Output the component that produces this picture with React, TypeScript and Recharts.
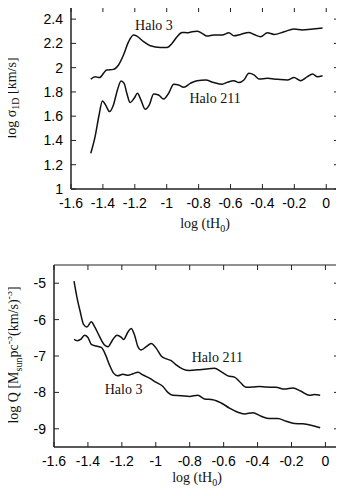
import { LineChart, Line, XAxis, YAxis, ReferenceDot, ReferenceArea } from 'recharts';

// log (tH0) ticks shared by both panels
const xTicks = [-1.6, -1.4, -1.2, -1, -0.8, -0.6, -0.4, -0.2, 0];
const sigmaTicks = [1, 1.2, 1.4, 1.6, 1.8, 2, 2.2, 2.4];
const qTicks = [-9, -8, -7, -6, -5];

// top panel: log sigma_1D
const sigmaHalo3T = [-1.476, -1.449, -1.422, -1.376, -1.334, -1.302, -1.271, -1.239, -1.208, -1.187, -1.145, -1.103, -1.04, -0.998, -0.967, -0.935, -0.904, -0.872, -0.841, -0.81, -0.778, -0.747, -0.705, -0.652, -0.61, -0.579, -0.537, -0.485, -0.453, -0.411, -0.369, -0.327, -0.264, -0.202, -0.149, -0.097, -0.023];
const sigmaHalo3 = [1.904, 1.926, 1.918, 1.981, 1.986, 2.022, 2.104, 2.214, 2.269, 2.26, 2.214, 2.181, 2.167, 2.167, 2.2, 2.255, 2.29, 2.288, 2.296, 2.3, 2.283, 2.26, 2.269, 2.269, 2.288, 2.263, 2.274, 2.29, 2.274, 2.255, 2.288, 2.274, 2.296, 2.318, 2.31, 2.316, 2.326];

const sigmaHalo211T = [-1.476, -1.449, -1.424, -1.403, -1.38, -1.359, -1.334, -1.309, -1.286, -1.267, -1.25, -1.229, -1.204, -1.183, -1.162, -1.135, -1.109, -1.082, -1.051, -1.019, -0.988, -0.956, -0.925, -0.893, -0.852, -0.81, -0.757, -0.705, -0.652, -0.621, -0.579, -0.548, -0.516, -0.485, -0.453, -0.422, -0.369, -0.306, -0.244, -0.202, -0.16, -0.118, -0.086, -0.055, -0.023];
const sigmaHalo211 = [1.295, 1.432, 1.61, 1.726, 1.685, 1.638, 1.693, 1.816, 1.89, 1.871, 1.789, 1.712, 1.748, 1.789, 1.734, 1.657, 1.693, 1.784, 1.775, 1.742, 1.789, 1.863, 1.857, 1.838, 1.871, 1.893, 1.898, 1.877, 1.863, 1.879, 1.893, 1.877, 1.898, 1.953, 1.94, 1.907, 1.912, 1.904, 1.898, 1.918, 1.893, 1.926, 1.948, 1.926, 1.934];

// bottom panel: log Q
const qHalo211T = [-1.482, -1.465, -1.445, -1.426, -1.406, -1.38, -1.36, -1.331, -1.302, -1.282, -1.253, -1.229, -1.203, -1.19, -1.164, -1.145, -1.125, -1.105, -1.086, -1.056, -1.027, -0.997, -0.968, -0.938, -0.909, -0.88, -0.84, -0.801, -0.752, -0.703, -0.654, -0.615, -0.575, -0.536, -0.507, -0.467, -0.428, -0.389, -0.35, -0.291, -0.242, -0.192, -0.143, -0.094, -0.065, -0.031];
const qHalo211 = [-4.945, -5.38, -5.79, -6.13, -6.2, -6.06, -6.2, -6.47, -6.7, -6.745, -6.545, -6.43, -6.49, -6.545, -6.34, -6.245, -6.43, -6.745, -6.836, -6.745, -6.655, -6.79, -7.0, -7.08, -7.13, -7.245, -7.36, -7.4, -7.38, -7.355, -7.336, -7.43, -7.545, -7.58, -7.7, -7.86, -7.855, -7.836, -7.855, -7.86, -7.91, -7.88, -7.97, -8.08, -8.06, -8.08];

const qHalo3T = [-1.482, -1.463, -1.443, -1.42, -1.4, -1.38, -1.351, -1.321, -1.296, -1.273, -1.249, -1.224, -1.194, -1.164, -1.135, -1.105, -1.076, -1.037, -0.997, -0.958, -0.929, -0.9, -0.85, -0.801, -0.752, -0.713, -0.664, -0.615, -0.566, -0.517, -0.477, -0.428, -0.379, -0.33, -0.281, -0.232, -0.183, -0.134, -0.085, -0.031];
const qHalo3 = [-6.545, -6.58, -6.545, -6.43, -6.49, -6.68, -6.727, -6.764, -6.97, -7.245, -7.47, -7.545, -7.5, -7.53, -7.49, -7.445, -7.52, -7.61, -7.727, -7.836, -8.0, -8.08, -8.09, -8.11, -8.08, -8.18, -8.2, -8.29, -8.43, -8.545, -8.59, -8.56, -8.655, -8.72, -8.72, -8.79, -8.855, -8.864, -8.9, -8.97];

// one table per panel, keyed on t; gaps are bridged with connectNulls
function mergeSeries(t3: number[], v3: number[], t211: number[], v211: number[]) {
  const rows = new Map<number, any>();
  t3.forEach((t, i) => rows.set(t, { ...(rows.get(t) || { t }), halo3: v3[i] }));
  t211.forEach((t, i) => rows.set(t, { ...(rows.get(t) || { t }), halo211: v211[i] }));
  return [...rows.values()].sort((a, b) => a.t - b.t);
}
const sigmaRows = mergeSeries(sigmaHalo3T, sigmaHalo3, sigmaHalo211T, sigmaHalo211);
const qRows = mergeSeries(qHalo3T, qHalo3, qHalo211T, qHalo211);

const sansFont = '"Liberation Sans", Arial, sans-serif';
const serifFont = '"Liberation Serif", "Times New Roman", serif';

// gnuplot-style inward ticks, mirrored on the opposite side
const BottomTick = ({ x, y, payload, h }: any) => (
  <g>
    <line x1={x} x2={x} y1={y} y2={y - 5} stroke="#222" strokeWidth={1} />
    <line x1={x} x2={x} y1={y - h} y2={y - h + 5} stroke="#222" strokeWidth={1} />
    <text x={x} y={y + 19} textAnchor="middle" fontSize={14} style={{ fontFamily: sansFont }}>{String(payload.value)}</text>
  </g>
);
const LeftTick = ({ x, y, payload, w }: any) => (
  <g>
    <line x1={x} x2={x + 5} y1={y} y2={y} stroke="#222" strokeWidth={1} />
    <line x1={x + w} x2={x + w - 5} y1={y} y2={y} stroke="#222" strokeWidth={1} />
    <text x={x - 8} y={y + 5} textAnchor="end" fontSize={14} style={{ fontFamily: sansFont }}>{String(payload.value)}</text>
  </g>
);

const annot = (value: string) => ({ value, position: 'center' as const, fontSize: 14, fill: '#111' });

const serifText: React.CSSProperties = { position: 'absolute', fontFamily: serifFont, fontSize: 14, color: '#111', whiteSpace: 'nowrap', lineHeight: '16px' };
const vTitle = (top: number): React.CSSProperties => ({ ...serifText, left: 14, top, transform: 'translate(-50%, -50%) rotate(-90deg)' });
const hTitle = (left: number, top: number): React.CSSProperties => ({ ...serifText, left, top, transform: 'translate(-50%, 0)' });

export default function App() {
  return (
    <div style={{ position: 'relative', width: 344, height: 496, margin: -8, background: '#fff' }}>
      <div style={{ fontFamily: serifFont }}>
        <LineChart width={344} height={248} data={sigmaRows} margin={{ top: 7, right: 5, left: 0, bottom: 0 }}>
          <XAxis dataKey="t" type="number" domain={[-1.6, 0.08]} ticks={xTicks} height={59} tickSize={0} tickMargin={0}
            tickLine={false} stroke="#222" tick={<BottomTick h={182} />} />
          <YAxis type="number" domain={[1, 2.5]} ticks={sigmaTicks} width={71} tickSize={0} tickMargin={0}
            tickLine={false} stroke="#222" tick={<LeftTick w={268} />} />
          <ReferenceArea x1={-1.6} x2={0.08} y1={1} y2={2.5} fill="none" stroke="#222" strokeWidth={1} />
          <Line dataKey="halo3" type="monotone" connectNulls stroke="#111" strokeWidth={1.5} dot={false} isAnimationActive={false} />
          <Line dataKey="halo211" type="monotone" connectNulls stroke="#111" strokeWidth={1.5} dot={false} isAnimationActive={false} />
          <ReferenceDot x={-1.08} y={2.353} r={0} fill="none" stroke="none" label={annot('Halo 3')} />
          <ReferenceDot x={-0.697} y={1.753} r={0} fill="none" stroke="none" label={annot('Halo 211')} />
        </LineChart>

        <LineChart width={344} height={248} data={qRows} margin={{ top: 17, right: 5, left: 0, bottom: 0 }}>
          <XAxis dataKey="t" type="number" domain={[-1.6, 0.08]} ticks={xTicks} height={49} tickSize={0} tickMargin={0}
            tickLine={false} stroke="#222" tick={<BottomTick h={182} />} />
          <YAxis type="number" domain={[-9.5, -4.5]} ticks={qTicks} width={54} tickSize={0} tickMargin={0}
            tickLine={false} stroke="#222" tick={<LeftTick w={285} />} />
          <ReferenceArea x1={-1.6} x2={0.08} y1={-9.5} y2={-4.5} fill="none" stroke="#222" strokeWidth={1} />
          <Line dataKey="halo211" type="monotone" connectNulls stroke="#111" strokeWidth={1.5} dot={false} isAnimationActive={false} />
          <Line dataKey="halo3" type="monotone" connectNulls stroke="#111" strokeWidth={1.5} dot={false} isAnimationActive={false} />
          <ReferenceDot x={-0.637} y={-7.02} r={0} fill="none" stroke="none" label={annot('Halo 211')} />
          <ReferenceDot x={-1.19} y={-7.9} r={0} fill="none" stroke="none" label={annot('Halo 3')} />
        </LineChart>
      </div>

      {/* axis titles */}
      <div style={vTitle(98)}>log σ<sub style={{ fontSize: 10 }}>1D</sub> [km/s]</div>
      <div style={hTitle(205, 216)}>log (tH<sub style={{ fontSize: 10 }}>0</sub>)</div>
      <div style={vTitle(355)}>log Q [M<sub style={{ fontSize: 10 }}>sun</sub>pc<sup style={{ fontSize: 10 }}>-3</sup>(km/s)<sup style={{ fontSize: 10 }}>-3</sup>]</div>
      <div style={hTitle(197, 470)}>log (tH<sub style={{ fontSize: 10 }}>0</sub>)</div>
    </div>
  );
}
